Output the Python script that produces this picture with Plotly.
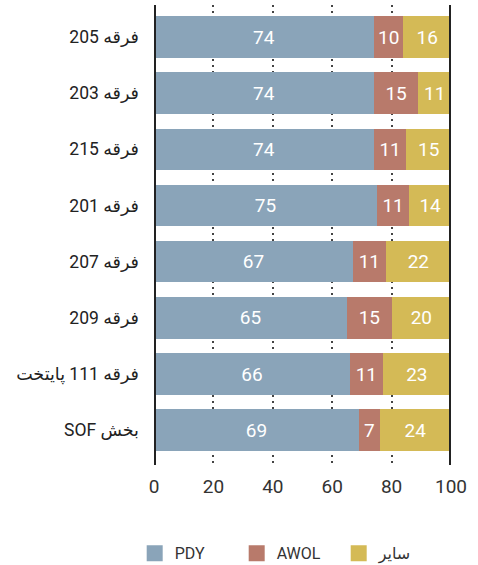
import plotly.graph_objects as go

categories = ["فرقه 205", "فرقه 203", "فرقه 215", "فرقه 201", "فرقه 207", "فرقه 209", "فرقه 111 پایتخت", "بخش SOF"]
pdy = [74, 74, 74, 75, 67, 65, 66, 69]
awol = [10, 15, 11, 11, 11, 15, 11, 7]
other = [16, 11, 15, 14, 22, 20, 23, 24]
series_names = ["PDY", "AWOL", "سایر"]
colors = ["#8aa4b9", "#b87a6b", "#d4ba56"]
x_ticks = [0, 20, 40, 60, 80, 100]

FONT = "Roboto, DejaVu Sans, sans-serif"

fig = go.Figure()
for name, vals, col in zip(series_names, [pdy, awol, other], colors):
    fig.add_trace(go.Bar(
        y=categories, x=vals, orientation="h", name=name,
        marker=dict(color=col, line=dict(width=0)),
        text=[str(v) for v in vals], textposition="inside",
        insidetextanchor="middle",
        textfont=dict(color="white", size=19, family=FONT),
        showlegend=False, hoverinfo="x+y",
    ))
for name, col in zip(series_names, colors):
    fig.add_trace(go.Scatter(
        x=[None], y=[None], mode="markers", name=name,
        marker=dict(symbol="square", size=20, color=col),
        showlegend=True,
    ))

for xv in [0, 100]:
    fig.add_shape(type="line", xref="x", yref="paper", x0=xv, x1=xv, y0=0, y1=1,
                  line=dict(color="#222222", width=4), layer="above")

# right-to-left embedding so mixed Persian/Latin labels read in RTL order
rtl_labels = ["\u202b" + c + "\u202c" for c in categories]

fig.update_layout(
    barmode="stack",
    bargap=0.26,
    width=478, height=565,
    margin=dict(l=154, r=27, t=5, b=100, autoexpand=False),
    plot_bgcolor="white", paper_bgcolor="white",
    font=dict(family=FONT, color="#333333"),
    xaxis=dict(range=[0, 100], tickvals=x_ticks, ticktext=[str(t) for t in x_ticks],
               showgrid=True, gridcolor="#444444", griddash="2px,4px", gridwidth=1.5,
               zeroline=False, showline=False, ticks="", ticklabelstandoff=8,
               automargin=False,
               tickfont=dict(size=19, color="#333333", family=FONT), fixedrange=True),
    yaxis=dict(categoryorder="array", categoryarray=categories, range=[7.62, -0.57],
               tickvals=categories, ticktext=rtl_labels,
               showgrid=False, zeroline=False, showline=False, ticks="",
               ticklabelstandoff=14, automargin=False, fixedrange=True,
               tickfont=dict(size=17.5, color="#222222", family=FONT)),
    legend=dict(orientation="h", x=-0.065, xanchor="left", y=-0.192, yanchor="middle",
                traceorder="normal",
                font=dict(size=16, color="#333333", family=FONT),
                itemwidth=30, tracegroupgap=0, entrywidth=57, entrywidthmode="pixels"),
)

fig.write_html("out.html", config={"displayModeBar": False},
               post_script="document.body.style.margin='0';document.body.style.overflow='hidden';")
